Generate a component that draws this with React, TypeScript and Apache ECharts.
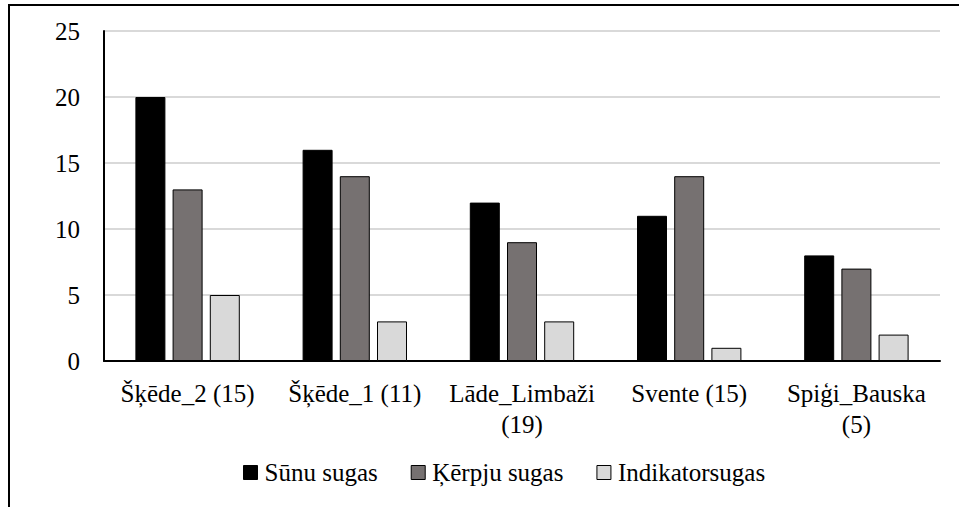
import React, { useEffect, useRef } from "react";
import * as echarts from "echarts";

const categories = ["Šķēde_2 (15)", "Šķēde_1 (11)", "Lāde_Limbaži\n(19)", "Svente (15)", "Spiģi_Bauska\n(5)"];
const seriesNames = ["Sūnu sugas", "Ķērpju sugas", "Indikatorsugas"];
const sunu = [20, 16, 12, 11, 8];
const kerpju = [13, 14, 9, 14, 7];
const indikator = [5, 3, 3, 1, 2];
const colors = ["#000000", "#767171", "#d9d9d9"];

export default function App() {
  const ref = useRef<HTMLDivElement>(null);
  useEffect(() => {
    if (!ref.current) return;
    const chart = echarts.init(ref.current, null, { renderer: "svg" });
    const font = "Liberation Serif";
    const data = [sunu, kerpju, indikator];
    chart.setOption({
      animation: false,
      backgroundColor: "#ffffff",
      textStyle: { fontFamily: font },
      grid: { left: 104, right: 19, top: 31, bottom: 146, containLabel: false },
      legend: {
        top: 455,
        left: 238,
        itemWidth: 14,
        itemHeight: 14,
        itemGap: 33,
        icon: "rect",
        textStyle: { fontFamily: font, fontSize: 25, color: "#000", padding: [0, 0, 0, 2] },
        data: seriesNames.map((n, i) => ({ name: n, itemStyle: { color: colors[i], borderColor: "#000", borderWidth: 1 } })),
      },
      xAxis: {
        type: "category",
        data: categories,
        axisLine: { lineStyle: { color: "#000", width: 2 } },
        axisTick: { show: false },
        axisLabel: { color: "#000", fontSize: 25, fontFamily: font, margin: 17, lineHeight: 31, interval: 0 },
      },
      yAxis: {
        type: "value",
        min: 0,
        max: 25,
        interval: 5,
        axisLine: { show: true, lineStyle: { color: "#000", width: 2 } },
        axisLabel: { color: "#000", fontSize: 25, fontFamily: font, margin: 24 },
        splitLine: { lineStyle: { color: "#d9d9d9", width: 2 } },
      },
      graphic: [
        { type: "line", shape: { x1: 8, y1: 5, x2: 959, y2: 5 }, style: { stroke: "#000", lineWidth: 2 } },
        { type: "line", shape: { x1: 9, y1: 5, x2: 9, y2: 507 }, style: { stroke: "#000", lineWidth: 2 } },
      ],
      series: seriesNames.map((name, i) => ({
        name,
        type: "bar",
        data: data[i],
        barWidth: 30,
        barGap: "24%",
        itemStyle: { color: colors[i], borderColor: "#000", borderWidth: 1 },
      })),
    });
    return () => chart.dispose();
  }, []);
  return <div ref={ref} style={{ position: "fixed", left: 0, top: 0, width: 959, height: 507 }} />;
}
